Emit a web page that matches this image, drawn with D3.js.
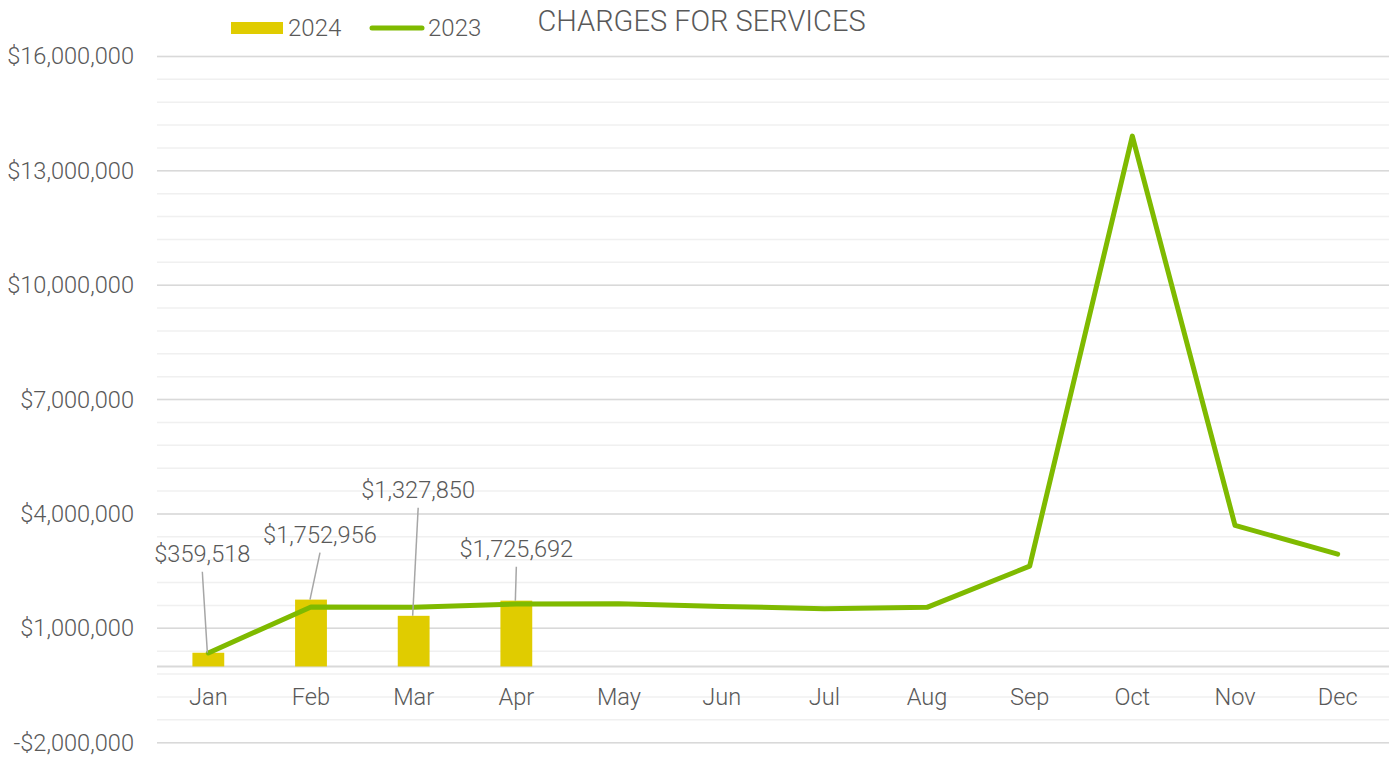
<!DOCTYPE html>
<html>
<head>
<meta charset="utf-8">
<script src="https://cdn.jsdelivr.net/npm/d3@7"></script>
<style>
  html, body { margin: 0; padding: 0; background: #ffffff; }
  svg { display: block; font-family: Roboto, "Open Sans", sans-serif; font-weight: 300; }
</style>
</head>
<body>
<svg id="chart" width="1391" height="759"></svg>
<script>
// Monthly charges for services, 2024 (bars) vs 2023 (line)
const months = ["Jan", "Feb", "Mar", "Apr", "May", "Jun", "Jul", "Aug", "Sep", "Oct", "Nov", "Dec"];
const values2024 = [359518, 1752956, 1327850, 1725692];
const values2023 = [355000, 1560000, 1550000, 1640000, 1645000, 1575000, 1515000, 1550000, 2630000, 13910000, 3700000, 2945000];
const yTicks = [-2000000, 1000000, 4000000, 7000000, 10000000, 13000000, 16000000];
const titleText = "CHARGES FOR SERVICES";
const seriesNames = ["2024", "2023"];

// Hand-placed data label offsets (px) from each bar's top centre
const labelOffsets = [[-6, -99], [9, -65], [4.5, -126], [0, -52]];

const W = 1391, H = 759;
const plot = { left: 157, right: 1389, top: 56.4, bottom: 742.7 };
const colors = { bar: "#e0cc00", line: "#7fba00", text: "#595959", major: "#d9d9d9", minor: "#f0f0f0", leader: "#a6a6a6" };
const fontSize = "23.6px";

const svg = d3.select("#chart");

const x = d3.scaleBand().domain(months).range([plot.left, plot.right]).paddingInner(0).paddingOuter(0);
const y = d3.scaleLinear().domain([-2000000, 16000000]).range([plot.bottom, plot.top]);

const locale = d3.formatLocale({ decimal: ".", thousands: ",", grouping: [3], currency: ["$", ""], minus: "-" });
const fmt = locale.format("$,");

// Minor gridlines every 600,000
const minorTicks = d3.range(-2000000, 16000001, 600000);
svg.append("g").selectAll("line").data(minorTicks).join("line")
  .attr("x1", plot.left).attr("x2", plot.right)
  .attr("y1", d => y(d)).attr("y2", d => y(d))
  .attr("stroke", colors.minor).attr("stroke-width", 1.5);

// Major gridlines
svg.append("g").selectAll("line").data(yTicks).join("line")
  .attr("x1", plot.left).attr("x2", plot.right)
  .attr("y1", d => y(d)).attr("y2", d => y(d))
  .attr("stroke", colors.major).attr("stroke-width", 1.5);

// Zero baseline
svg.append("line")
  .attr("x1", plot.left).attr("x2", plot.right)
  .attr("y1", y(0)).attr("y2", y(0))
  .attr("stroke", colors.major).attr("stroke-width", 2);

// Y axis labels
const yAxis = svg.append("g").attr("transform", `translate(${plot.left - 23},0)`)
  .call(d3.axisLeft(y).tickValues(yTicks).tickSize(0).tickPadding(0).tickFormat(fmt));
yAxis.select(".domain").remove();
yAxis.selectAll("text").attr("fill", colors.text).style("font-size", fontSize)
  .style("font-family", "Roboto, sans-serif").style("font-weight", 300);

// Month axis labels
const xAxis = svg.append("g").attr("transform", `translate(0,${y(0)})`)
  .call(d3.axisBottom(x).tickSize(0).tickPadding(22));
xAxis.select(".domain").remove();
xAxis.selectAll("text").attr("fill", colors.text).style("font-size", fontSize)
  .style("font-family", "Roboto, sans-serif").style("font-weight", 300);

// 2024 bars
const barW = x.bandwidth() * 0.31;
const bars2024 = months.slice(0, values2024.length).map((m, i) => ({ m, v: values2024[i], off: labelOffsets[i] }));
svg.append("g").selectAll("rect").data(bars2024).join("rect")
  .attr("x", d => x(d.m) + x.bandwidth() / 2 - barW / 2)
  .attr("width", barW)
  .attr("y", d => y(Math.max(0, d.v)))
  .attr("height", d => Math.abs(y(d.v) - y(0)))
  .attr("fill", colors.bar);

// 2023 line
const line = d3.line()
  .x((d, i) => x(months[i]) + x.bandwidth() / 2)
  .y(d => y(d));
svg.append("path").datum(values2023)
  .attr("d", line)
  .attr("fill", "none")
  .attr("stroke", colors.line)
  .attr("stroke-width", 5)
  .attr("stroke-linejoin", "round")
  .attr("stroke-linecap", "round");

// Data labels with leader lines
const lbl = svg.append("g");
bars2024.forEach(d => {
  const cx = x(d.m) + x.bandwidth() / 2;
  const top = y(d.v);
  const lx = cx + d.off[0], ly = top + d.off[1];
  lbl.append("line")
    .attr("x1", lx).attr("y1", ly + 18)
    .attr("x2", cx - 1).attr("y2", top)
    .attr("stroke", colors.leader).attr("stroke-width", 1.5);
  lbl.append("text")
    .attr("x", lx).attr("y", ly).attr("dy", "0.35em")
    .attr("text-anchor", "middle")
    .attr("fill", colors.text)
    .style("font-size", fontSize)
    .text(fmt(d.v));
});

// Title
svg.append("text")
  .attr("x", 701.5).attr("y", 30.5)
  .attr("text-anchor", "middle")
  .attr("fill", colors.text)
  .style("font-size", "29px")
  .text(titleText);

// Legend
const leg = svg.append("g");
leg.append("rect").attr("x", 231).attr("y", 22).attr("width", 52).attr("height", 12).attr("fill", colors.bar);
leg.append("text").attr("x", 288).attr("y", 36).attr("fill", colors.text).style("font-size", "24px").text(seriesNames[0]);
leg.append("line").attr("x1", 372).attr("x2", 422).attr("y1", 28).attr("y2", 28)
  .attr("stroke", colors.line).attr("stroke-width", 5).attr("stroke-linecap", "round");
leg.append("text").attr("x", 428).attr("y", 36).attr("fill", colors.text).style("font-size", "24px").text(seriesNames[1]);
</script>
</body>
</html>
